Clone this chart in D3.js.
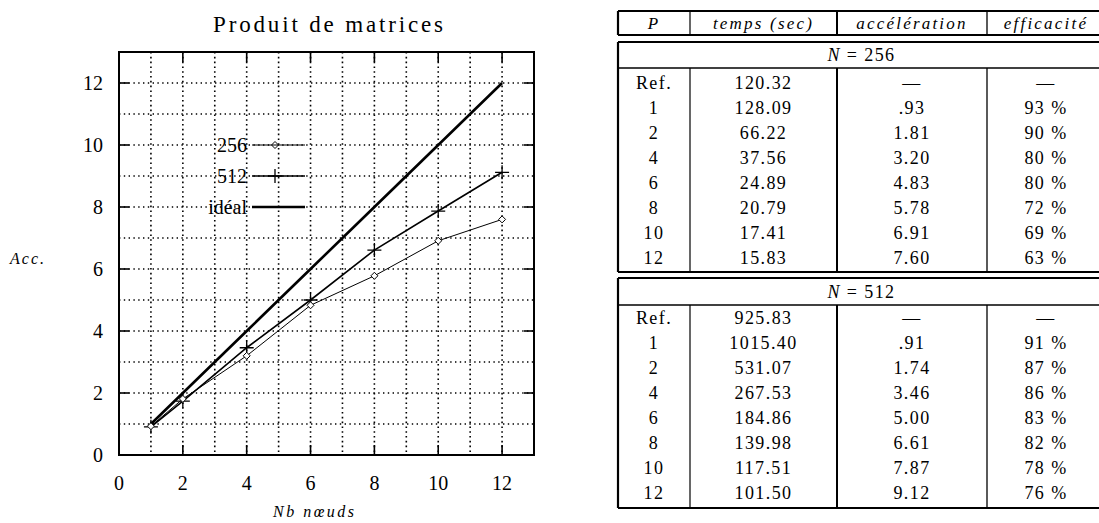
<!DOCTYPE html>
<html>
<head>
<meta charset="utf-8">
<script src="https://cdn.jsdelivr.net/npm/d3@7"></script>
<style>
  body { margin: 0; background: #fff; }
</style>
</head>
<body>
<script>
// Data
const nodes = [1, 2, 4, 6, 8, 10, 12];
const procLabels = ["Ref.", "1", "2", "4", "6", "8", "10", "12"];
const temps256 = [120.32, 128.09, 66.22, 37.56, 24.89, 20.79, 17.41, 15.83];
const acc256 = [0.93, 1.81, 3.20, 4.83, 5.78, 6.91, 7.60];
const eff256 = [93, 90, 80, 80, 72, 69, 63];
const temps512 = [925.83, 1015.40, 531.07, 267.53, 184.86, 139.98, 117.51, 101.50];
const acc512 = [0.91, 1.74, 3.46, 5.00, 6.61, 7.87, 9.12];
const eff512 = [91, 87, 86, 83, 82, 78, 76];
const xTicks = [0, 2, 4, 6, 8, 10, 12];
const yTicks = [0, 2, 4, 6, 8, 10, 12];
const headers = ["P", "temps (sec)", "accélération", "efficacité"];

const W = 1099, H = 523;
const svg = d3.select("body").append("svg")
  .attr("width", W).attr("height", H)
  .attr("xmlns", "http://www.w3.org/2000/svg")
  .attr("font-family", "'Liberation Serif', 'DejaVu Serif', serif");

// ---------- chart ----------
const x = d3.scaleLinear().domain([0, 13]).range([119, 534]);
const y = d3.scaleLinear().domain([0, 13]).range([455, 52]);
const grid = d3.range(1, 13);

// dotted grid
svg.append("g").selectAll("line").data(grid).enter().append("line")
  .attr("x1", d => x(d)).attr("x2", d => x(d))
  .attr("y1", y(13)).attr("y2", y(0))
  .attr("stroke", "#000").attr("stroke-width", 1.6)
  .attr("stroke-dasharray", "1.6,3.2");
svg.append("g").selectAll("line").data(grid).enter().append("line")
  .attr("x1", x(0)).attr("x2", x(13))
  .attr("y1", d => y(d)).attr("y2", d => y(d))
  .attr("stroke", "#000").attr("stroke-width", 1.4)
  .attr("stroke-dasharray", "1.4,3.4");

// ticks (inside, on all four sides)
const tk = 10;
const tg = svg.append("g").attr("stroke", "#000").attr("stroke-width", 1.6);
xTicks.slice(1).forEach(v => {
  tg.append("line").attr("x1", x(v)).attr("x2", x(v)).attr("y1", y(0)).attr("y2", y(0) - tk);
  tg.append("line").attr("x1", x(v)).attr("x2", x(v)).attr("y1", y(13)).attr("y2", y(13) + tk);
});
yTicks.slice(1).forEach(v => {
  tg.append("line").attr("x1", x(0)).attr("x2", x(0) + tk).attr("y1", y(v)).attr("y2", y(v));
  tg.append("line").attr("x1", x(13)).attr("x2", x(13) - tk).attr("y1", y(v)).attr("y2", y(v));
});

// frame
svg.append("rect")
  .attr("x", x(0)).attr("y", y(13))
  .attr("width", x(13) - x(0)).attr("height", y(0) - y(13))
  .attr("fill", "none").attr("stroke", "#000").attr("stroke-width", 2);

// tick labels
svg.append("g").selectAll("text").data(xTicks).enter().append("text")
  .attr("x", d => x(d)).attr("y", 490)
  .attr("text-anchor", "middle").attr("font-size", 20)
  .text(d => d);
svg.append("g").selectAll("text").data(yTicks).enter().append("text")
  .attr("x", 103).attr("y", d => y(d) + 7)
  .attr("text-anchor", "end").attr("font-size", 20)
  .text(d => d);

// title and axis labels
svg.append("text").attr("x", 213).attr("y", 32)
  .attr("font-size", 23).attr("textLength", 230).attr("lengthAdjust", "spacing")
  .text("Produit de matrices");
svg.append("text").attr("x", 10).attr("y", 264)
  .attr("font-size", 16).attr("font-style", "italic")
  .attr("letter-spacing", 2).text("Acc.");
svg.append("text").attr("x", 273).attr("y", 517)
  .attr("font-size", 16).attr("font-style", "italic")
  .attr("letter-spacing", 2.5).text("Nb  nœuds");

// series
const line = d3.line().x(d => x(d[0])).y(d => y(d[1]));
const s256 = nodes.map((n, i) => [n, acc256[i]]);
const s512 = nodes.map((n, i) => [n, acc512[i]]);
const ideal = nodes.map(n => [n, n]);

svg.append("path").datum(ideal).attr("d", line)
  .attr("fill", "none").attr("stroke", "#000").attr("stroke-width", 2.6);
svg.append("path").datum(s512).attr("d", line)
  .attr("fill", "none").attr("stroke", "#000").attr("stroke-width", 1.6);
svg.append("path").datum(s256).attr("d", line)
  .attr("fill", "none").attr("stroke", "#000").attr("stroke-width", 1);

function diamond(g, cx, cy) {
  const r = 3.5;
  g.append("path")
    .attr("d", `M${cx},${cy - r}L${cx + r},${cy}L${cx},${cy + r}L${cx - r},${cy}Z`)
    .attr("fill", "#fff").attr("stroke", "#000").attr("stroke-width", 1);
}
function plus(g, cx, cy) {
  const r = 7;
  g.append("path")
    .attr("d", `M${cx - r},${cy}H${cx + r}M${cx},${cy - r}V${cy + r}`)
    .attr("stroke", "#000").attr("stroke-width", 1.3);
}
const mk = svg.append("g");
s512.forEach(d => plus(mk, x(d[0]), y(d[1])));
s256.forEach(d => diamond(mk, x(d[0]), y(d[1])));

// legend
const legend = [
  { label: "256", w: 1, m: diamond },
  { label: "512", w: 1.6, m: plus },
  { label: "idéal", w: 2.6, m: null }
];
const ly = d3.scaleLinear().domain([0, 2]).range([145, 207]);
legend.forEach((d, i) => {
  const yy = ly(i);
  svg.append("text").attr("x", 247).attr("y", yy + 7)
    .attr("text-anchor", "end").attr("font-size", 20).text(d.label);
  svg.append("line").attr("x1", 252).attr("x2", 305).attr("y1", yy).attr("y2", yy)
    .attr("stroke", "#000").attr("stroke-width", d.w);
  if (d.m) d.m(mk, 275, yy);
});

// ---------- table ----------
const colEdges = [618, 690, 837, 987, 1105];
const colW = [1.2, 2, 1.3];
const colMid = i => (colEdges[i] + colEdges[i + 1]) / 2;
const tableFont = 18;
const fmt2 = d3.format(".2f");
const accFmt = v => (v < 1 ? fmt2(v).replace(/^0/, "") : fmt2(v));

const tbl = svg.append("g");

function hline(yy, w) {
  tbl.append("line").attr("x1", colEdges[0]).attr("x2", colEdges[4])
    .attr("y1", yy).attr("y2", yy).attr("stroke", "#000").attr("stroke-width", w);
}
function vline(xx, y1, y2, w) {
  tbl.append("line").attr("x1", xx).attr("x2", xx)
    .attr("y1", y1).attr("y2", y2).attr("stroke", "#000").attr("stroke-width", w);
}
function cell(i, yy, txt, italic) {
  tbl.append("text").attr("x", colMid(i)).attr("y", yy + 6)
    .attr("text-anchor", "middle").attr("font-size", italic ? 17 : tableFont)
    .attr("font-style", italic ? "italic" : null)
    .attr("letter-spacing", italic ? 2.2 : 1.4)
    .text(txt);
}

// header box
hline(11, 2.2); hline(35, 2.2);
vline(colEdges[0], 11, 35, 2.2); vline(colEdges[4], 11, 35, 2.2);
colEdges.slice(1, 4).forEach((e, i) => vline(e, 11, 35, colW[i]));
headers.forEach((h, i) => cell(i, 23, h, true));

function block(top, titleY, sep, rowRange, bottom, n, temps, acc, eff) {
  hline(top, 2.2); hline(sep, 1.3); hline(bottom, 2.2);
  vline(colEdges[0], top, bottom, 2.2); vline(colEdges[4], top, bottom, 2.2);
  colEdges.slice(1, 4).forEach((e, i) => vline(e, sep, bottom, colW[i]));
  const t = tbl.append("text").attr("x", (colEdges[0] + colEdges[4]) / 2).attr("y", titleY + 6)
    .attr("text-anchor", "middle").attr("font-size", tableFont).attr("letter-spacing", 1.4);
  t.append("tspan").attr("font-style", "italic").text("N");
  t.append("tspan").text(" = " + n);
  const ry = d3.scaleLinear().domain([0, 7]).range(rowRange);
  procLabels.forEach((p, k) => {
    const yy = ry(k);
    cell(0, yy, p, false);
    cell(1, yy, fmt2(temps[k]), false);
    cell(2, yy, k === 0 ? "—" : accFmt(acc[k - 1]), false);
    cell(3, yy, k === 0 ? "—" : eff[k - 1] + " %", false);
  });
}
block(42, 55, 68, [83, 258], 272, 256, temps256, acc256, eff256);
block(278, 292, 305, [318, 493], 508, 512, temps512, acc512, eff512);
</script>
</body>
</html>
